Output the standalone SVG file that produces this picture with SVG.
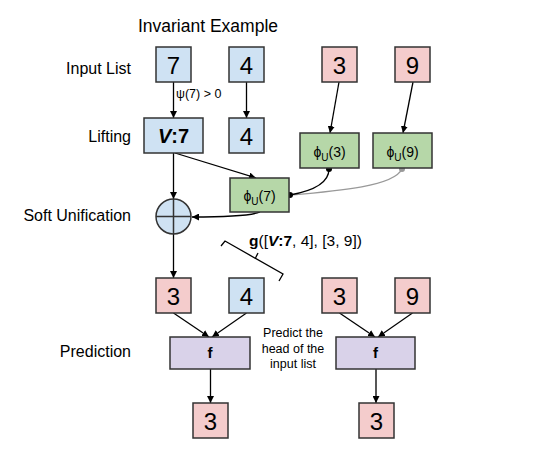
<svg xmlns="http://www.w3.org/2000/svg" width="548" height="474" viewBox="0 0 548 474">
<defs>
<style>
text{font-family:"Liberation Sans",Arial,sans-serif;fill:#000}
.lbl{font-size:16px;text-anchor:end}
.num{font-size:24px;text-anchor:middle}
.box{stroke:#333;stroke-width:1.5}
.blue{fill:#cfe2f3}.pink{fill:#f4cccc}.green{fill:#b6d7a8}.purple{fill:#d9d2e9}
.phi{font-size:14px;text-anchor:middle}
.sm{font-size:12.5px}
.c{fill:none;stroke:#000;stroke-width:1.3}
</style>
<marker id="ah" viewBox="0 0 8 8" refX="8" refY="4" markerWidth="7" markerHeight="7" markerUnits="userSpaceOnUse" orient="auto"><path d="M0,0 L8,4 L0,8 z" fill="#000"/></marker>
<marker id="dot" viewBox="0 0 6 6" refX="3" refY="3" markerWidth="6" markerHeight="6" markerUnits="userSpaceOnUse"><circle cx="3" cy="3" r="3" fill="#000"/></marker>
<marker id="gdot" viewBox="0 0 6 6" refX="3" refY="3" markerWidth="6" markerHeight="6" markerUnits="userSpaceOnUse"><circle cx="3" cy="3" r="3" fill="#999"/></marker>
</defs>
<rect width="548" height="474" fill="#fff"/>
<g id="labels">
<text x="208" y="32" style="font-size:17.5px;text-anchor:middle">Invariant Example</text>
<text class="lbl" x="131" y="74">Input List</text>
<text class="lbl" x="131" y="142">Lifting</text>
<text class="lbl" x="131" y="221">Soft Unification</text>
<text class="lbl" x="131" y="357">Prediction</text>
</g>
<g id="connectors">
<line class="c" x1="173.5" y1="82" x2="173.5" y2="118" marker-end="url(#ah)"/>
<line class="c" x1="246.5" y1="82" x2="246.5" y2="118" marker-end="url(#ah)"/>
<line class="c" x1="339" y1="82" x2="330" y2="133" marker-end="url(#ah)"/>
<line class="c" x1="413" y1="82" x2="403" y2="133" marker-end="url(#ah)"/>
<line class="c" x1="175" y1="153" x2="256" y2="178" marker-end="url(#ah)"/>
<line class="c" x1="173.5" y1="153" x2="173.5" y2="199" marker-end="url(#ah)"/>
<path class="c" d="M260,212 C250,216 215,217 192,217" marker-end="url(#ah)"/>
<path d="M402,169 C394,186 340,191 290,195" fill="none" stroke="#999" stroke-width="1.3" marker-start="url(#gdot)"/>
<path class="c" d="M329,169 C329,184 312,191 290,195" marker-start="url(#dot)" marker-end="url(#dot)"/>
<line class="c" x1="173.5" y1="234" x2="173.5" y2="278" marker-end="url(#ah)"/>
<line class="c" x1="173.5" y1="313" x2="209" y2="337" marker-end="url(#ah)"/>
<line class="c" x1="246.5" y1="313" x2="212" y2="337" marker-end="url(#ah)"/>
<line class="c" x1="339.5" y1="313" x2="375" y2="337" marker-end="url(#ah)"/>
<line class="c" x1="412.5" y1="313" x2="378" y2="337" marker-end="url(#ah)"/>
<line class="c" x1="210.5" y1="369" x2="210.5" y2="403" marker-end="url(#ah)"/>
<line x1="376" y1="369" x2="376" y2="403" stroke="#444" stroke-width="1.8" marker-end="url(#ah)"/>
</g>
<g id="bracket">
<path class="c" d="M221,246 L225,241 L283,274 L279,281"/>
<line class="c" x1="255.5" y1="258" x2="258" y2="253"/>
<text x="249" y="246" style="font-size:15.5px"><tspan font-weight="bold">g</tspan>([<tspan font-weight="bold" font-style="italic">V</tspan><tspan font-weight="bold">:7</tspan>, 4], [3, 9])</text>
</g>
<g id="in7"><rect class="box blue" x="156" y="47" width="35" height="35"/><text class="num" x="173.5" y="74">7</text></g>
<g id="in4"><rect class="box blue" x="229" y="47" width="35" height="35"/><text class="num" x="246.5" y="74">4</text></g>
<g id="in3"><rect class="box pink" x="322" y="47" width="35" height="35"/><text class="num" x="339.5" y="74">3</text></g>
<g id="in9"><rect class="box pink" x="395" y="47" width="35" height="35"/><text class="num" x="412.5" y="74">9</text></g>
<text class="sm" x="176" y="98">ψ(7) &gt; 0</text>
<g id="liftV7"><rect class="box blue" x="144" y="118" width="59" height="35"/><text x="173.5" y="143" style="font-size:20px;font-weight:bold;text-anchor:middle"><tspan font-style="italic">V</tspan>:7</text></g>
<g id="lift4"><rect class="box blue" x="229" y="118" width="35" height="35"/><text class="num" x="246.5" y="145">4</text></g>
<g id="phi3"><rect class="box green" x="300" y="133" width="59" height="35"/><text class="phi" x="329.5" y="157">ϕ<tspan font-size="10" dy="4">U</tspan><tspan dy="-4">(3)</tspan></text></g>
<g id="phi9"><rect class="box green" x="373" y="133" width="59" height="35"/><text class="phi" x="402.5" y="157">ϕ<tspan font-size="10" dy="4">U</tspan><tspan dy="-4">(9)</tspan></text></g>
<g id="phi7"><rect class="box green" x="230" y="178" width="59" height="34"/><text class="phi" x="259.5" y="201">ϕ<tspan font-size="10" dy="4">U</tspan><tspan dy="-4">(7)</tspan></text></g>
<g id="unify"><circle cx="173.5" cy="216.5" r="17.5" fill="#cfe2f3" stroke="#333" stroke-width="1.5"/><path d="M156,216.5 H191 M173.5,199 V234" stroke="#333" stroke-width="1.5"/></g>
<g id="p3a"><rect class="box pink" x="156" y="278" width="35" height="35"/><text class="num" x="173.5" y="305">3</text></g>
<g id="p4"><rect class="box blue" x="229" y="278" width="35" height="35"/><text class="num" x="246.5" y="305">4</text></g>
<g id="p3b"><rect class="box pink" x="322" y="278" width="35" height="35"/><text class="num" x="339.5" y="305">3</text></g>
<g id="p9"><rect class="box pink" x="395" y="278" width="35" height="35"/><text class="num" x="412.5" y="305">9</text></g>
<g id="f1"><rect class="box purple" x="170" y="337" width="80" height="32"/><text x="210" y="358" style="font-size:15px;font-weight:bold;text-anchor:middle">f</text></g>
<g id="f2"><rect class="box purple" x="336" y="337" width="79" height="32"/><text x="375.5" y="358" style="font-size:15px;font-weight:bold;text-anchor:middle">f</text></g>
<text class="sm" x="293" y="337" text-anchor="middle">Predict the</text>
<text class="sm" x="293" y="353" text-anchor="middle">head of the</text>
<text class="sm" x="293" y="368" text-anchor="middle">input list</text>
<g id="out1"><rect class="box pink" x="193" y="403" width="35" height="35"/><text class="num" x="210.5" y="430">3</text></g>
<g id="out2"><rect class="box pink" x="359" y="403" width="35" height="35"/><text class="num" x="376.5" y="430">3</text></g>
</svg>
